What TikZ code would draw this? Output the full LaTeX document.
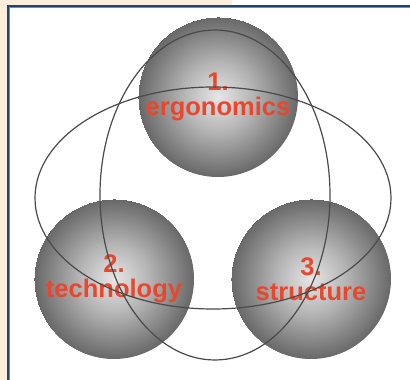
\documentclass[tikz,border=0pt]{standalone}
\usepackage{fontspec}
\setsansfont{Liberation Sans}
\usepackage{xcolor}
\definecolor{peachbg}{HTML}{FDEEDC}
\definecolor{framenavy}{HTML}{1C4474}
\definecolor{frameblue}{HTML}{6A8EBA}
\definecolor{orbred}{HTML}{E8472E}
\definecolor{orblite}{HTML}{E6E6E6}
\definecolor{orbmid}{HTML}{B4B4B4}
\definecolor{orbdark}{HTML}{686868}
\definecolor{ringgray}{HTML}{4A4A4A}
\usetikzlibrary{positioning, calc}
\pgfdeclareradialshading{orbshade}{\pgfpointorigin}{%
    color(0bp)=(orblite); color(11bp)=(orbmid); color(25bp)=(orbdark)}

\begin{document}
\begin{tikzpicture}[
    x=1pt, y=-1pt,
    orb/.style={
        circle, minimum size=160pt, inner sep=0pt,
        shading=orbshade,
        font=\sffamily\bfseries\fontsize{25.5}{25}\selectfont,
        text=orbred, align=center,
    },
    ring/.style={
        draw=ringgray, line width=1.2pt,
    },
]
\useasboundingbox (0,0) rectangle (410,380);
\clip (0,0) rectangle (410,380);

% -- Page background and frame --
\fill[peachbg] (0,0) rectangle (232,6);
\fill[peachbg] (0,0) rectangle (8,380);
\fill[white] (8,6) rectangle (420,390);
\draw[framenavy, line width=2.4pt] (8.2,6.2) rectangle (420,390);
\draw[frameblue, line width=0.8pt] (9.8,7.8) rectangle (420,390);

% -- Spheres --
\node[orb] (ergo) at (218,97) {1.\\ergonomics};
\node[orb] (tech) at (114,279) {2.\\technology};
\node[orb] (struct) at (311,279) {3.\\structure};

% -- Rings --
\draw[ring] (213,198) ellipse [x radius=178pt, y radius=111pt];
\draw[ring] (215,195) ellipse [x radius=115pt, y radius=165pt];

\end{tikzpicture}
\end{document}
